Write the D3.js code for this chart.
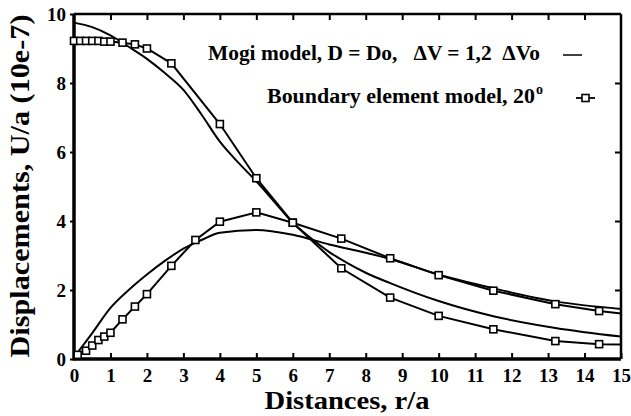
<!DOCTYPE html>
<html>
<head>
<meta charset="utf-8">
<script src="https://cdn.jsdelivr.net/npm/d3@7"></script>
<style>
  body { margin: 0; background: #fff; }
  svg text { font-family: "Liberation Serif", "Times New Roman", serif; font-weight: bold; fill: #000; white-space: pre; }
</style>
</head>
<body>
<div id="chart"></div>
<script>
// Mogi model (solid lines, no markers)
const mogiFallX = [0, 0.5, 1, 1.5, 2, 2.5, 3, 3.5, 4, 4.5, 5, 5.5, 6, 6.5, 7, 7.5, 8, 8.67, 10, 11.5, 13.2, 15];
const mogiFallY = [9.75, 9.62, 9.38, 9.05, 8.7, 8.28, 7.8, 7.08, 6.3, 5.7, 5.15, 4.55, 3.95, 3.5, 3.1, 2.78, 2.5, 2.2, 1.68, 1.24, 0.9, 0.65];
const mogiRiseX = [0, 0.5, 1, 1.5, 2, 2.5, 3, 3.5, 4, 5, 6, 7, 8, 8.67, 10, 11.5, 13.2, 15];
const mogiRiseY = [0.05, 0.75, 1.48, 2.0, 2.45, 2.85, 3.2, 3.45, 3.66, 3.74, 3.6, 3.32, 3.08, 2.9, 2.45, 2.05, 1.67, 1.45];

// Boundary element model, 20 deg (lines with square markers; last point at r/a = 15 has no marker)
const beFallX = [0, 0.17, 0.33, 0.5, 0.67, 0.83, 1.0, 1.33, 1.67, 2, 2.67, 4, 5, 6, 7.33, 8.67, 10, 11.5, 13.2, 14.4, 15];
const beFallY = [9.22, 9.22, 9.22, 9.22, 9.22, 9.2, 9.2, 9.17, 9.12, 9.0, 8.57, 6.81, 5.24, 3.95, 2.63, 1.78, 1.25, 0.86, 0.52, 0.43, 0.42];
const beRiseX = [0.1, 0.33, 0.5, 0.67, 0.83, 1.0, 1.33, 1.67, 2, 2.67, 3.33, 4, 5, 6, 7.33, 8.67, 10, 11.5, 13.2, 14.4, 15];
const beRiseY = [0.12, 0.24, 0.39, 0.55, 0.65, 0.76, 1.15, 1.52, 1.88, 2.70, 3.45, 3.98, 4.25, 3.95, 3.49, 2.92, 2.43, 1.98, 1.59, 1.39, 1.32];

const xTicks = d3.range(0, 16);
const yTicks = [0, 2, 4, 6, 8, 10];
const legendLabels = ["Mogi model, D = Do,   \u0394V = 1,2  \u0394Vo", "Boundary element model, 20"];

const width = 631, height = 416;
const margin = { top: 14, right: 10, bottom: 57, left: 74 };
const innerW = 621 - margin.left;
const innerH = 359 - margin.top;

const svg = d3.select('#chart').append('svg')
    .attr('width', width)
    .attr('height', height);

const g = svg.append('g')
    .attr('transform', `translate(${margin.left},${margin.top})`);

const x = d3.scaleLinear().domain([0, 15]).range([0, innerW]);
const y = d3.scaleLinear().domain([0, 10]).range([innerH, 0]);

// 座標軸
const xAxis = g.append('g')
    .attr('transform', `translate(0,${innerH})`)
    .call(d3.axisBottom(x).tickValues(xTicks).tickSize(-6).tickPadding(12).tickFormat(d3.format('d')));
const xTop = g.append('g')
    .call(d3.axisTop(x).tickValues(xTicks.slice(1, -1)).tickSize(-6).tickFormat(''));
const yAxis = g.append('g')
    .call(d3.axisLeft(y).tickValues(yTicks).tickSize(4).tickPadding(4).tickFormat(d3.format('d')));
const yRight = g.append('g')
    .attr('transform', `translate(${innerW},0)`)
    .call(d3.axisRight(y).tickValues(yTicks.slice(1, -1)).tickSize(-6).tickFormat(''));

[xAxis, xTop, yAxis, yRight].forEach(a => {
    a.select('.domain').remove();
    a.selectAll('line').attr('stroke', '#000').attr('stroke-width', 2);
});
xAxis.selectAll('text').style('font-size', '19px').attr('y', 23).attr('dy', 0);
yAxis.selectAll('text').style('font-size', '19px').attr('dy', '0.35em');

// 外框
g.append('line').attr('x1', 0).attr('x2', innerW).attr('y1', innerH).attr('y2', innerH)
    .attr('stroke', '#000').attr('stroke-width', 3.5);
g.append('line').attr('x1', 0).attr('x2', 0).attr('y1', 0).attr('y2', innerH + 1.5)
    .attr('stroke', '#000').attr('stroke-width', 3.5);
g.append('line').attr('x1', 0).attr('x2', innerW).attr('y1', 0).attr('y2', 0)
    .attr('stroke', '#000').attr('stroke-width', 2.5);
g.append('line').attr('x1', innerW).attr('x2', innerW).attr('y1', 0).attr('y2', innerH)
    .attr('stroke', '#000').attr('stroke-width', 2.5);

// 線條
const zip = (xs, ys) => xs.map((v, i) => ({ x: v, y: ys[i] }));
const smooth = d3.line().x(d => x(d.x)).y(d => y(d.y)).curve(d3.curveMonotoneX);
const straight = d3.line().x(d => x(d.x)).y(d => y(d.y));

const mogiSeries = [zip(mogiFallX, mogiFallY), zip(mogiRiseX, mogiRiseY)];
const beSeries = [zip(beFallX, beFallY), zip(beRiseX, beRiseY)];

g.selectAll('.mogi')
    .data(mogiSeries)
    .enter().append('path')
    .attr('class', 'mogi')
    .attr('fill', 'none')
    .attr('stroke', '#000')
    .attr('stroke-width', 2)
    .attr('d', smooth);

g.selectAll('.be')
    .data(beSeries)
    .enter().append('path')
    .attr('class', 'be')
    .attr('fill', 'none')
    .attr('stroke', '#000')
    .attr('stroke-width', 2)
    .attr('d', straight);

const ms = 7;
beSeries.forEach(s => {
    g.selectAll(null)
        .data(s.filter(d => d.x < 15))
        .enter().append('rect')
        .attr('x', d => x(d.x) - ms / 2)
        .attr('y', d => y(d.y) - ms / 2)
        .attr('width', ms)
        .attr('height', ms)
        .attr('fill', '#fff')
        .attr('stroke', '#000')
        .attr('stroke-width', 1.6);
});

// 圖例
svg.append('text')
    .attr('x', 208).attr('y', 60)
    .style('font-size', '20px')
    .attr('textLength', 332).attr('lengthAdjust', 'spacingAndGlyphs')
    .text(legendLabels[0]);
svg.append('line').attr('x1', 563).attr('x2', 582).attr('y1', 55).attr('y2', 55)
    .attr('stroke', '#000').attr('stroke-width', 1.5);

svg.append('text')
    .attr('x', 267).attr('y', 103)
    .style('font-size', '20px')
    .attr('textLength', 268).attr('lengthAdjust', 'spacingAndGlyphs')
    .text(legendLabels[1]);
svg.append('text')
    .attr('x', 536).attr('y', 94)
    .style('font-size', '14px')
    .text('o');
svg.append('line').attr('x1', 576).attr('x2', 595).attr('y1', 98).attr('y2', 98)
    .attr('stroke', '#000').attr('stroke-width', 1.8);
svg.append('rect').attr('x', 582).attr('y', 94.5).attr('width', 7).attr('height', 7)
    .attr('fill', '#fff').attr('stroke', '#000').attr('stroke-width', 1.6);

// 軸標題
svg.append('text')
    .attr('x', 347).attr('y', 409)
    .attr('text-anchor', 'middle')
    .style('font-size', '25px')
    .attr('textLength', 165).attr('lengthAdjust', 'spacingAndGlyphs')
    .text('Distances, r/a');
svg.append('text')
    .attr('transform', 'translate(29,186) rotate(-90)')
    .attr('text-anchor', 'middle')
    .style('font-size', '27px')
    .attr('textLength', 343).attr('lengthAdjust', 'spacingAndGlyphs')
    .text('Displacements, U/a (10e-7)');
</script>
</body>
</html>
